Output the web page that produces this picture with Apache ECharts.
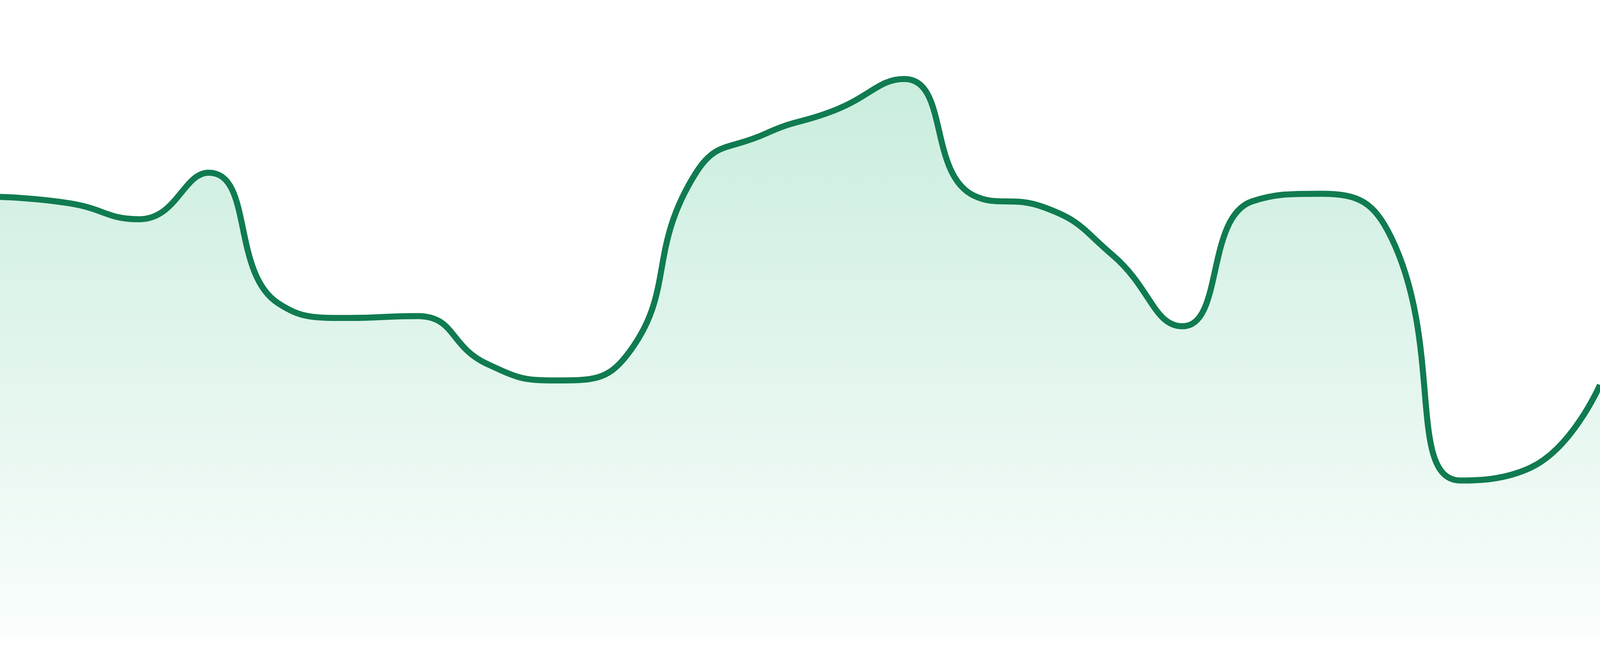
<!DOCTYPE html>
<html>
<head>
<meta charset="utf-8">
<style>
html,body{margin:0;padding:0;background:#ffffff;width:100%;height:100%;overflow:hidden;}
#chart{width:100%;height:100%;}
</style>
<script src="https://cdn.jsdelivr.net/npm/echarts@6/dist/echarts.min.js"></script>
</head>
<body>
<div id="chart"></div>
<script>
var categories = ['1','2','3','4','5','6','7','8','9','10','11','12','13','14','15','16','17','18','19','20','21','22','23','24'];
var values = [69.1, 68.1, 65.6, 72.9, 52.4, 50.1, 50.4, 42.9, 40.3, 44.1, 72.8, 79.0, 82.7, 87.6, 69.3, 67.5, 59.9, 48.8, 68.4, 69.6, 62.7, 24.6, 26.6, 39.6];

var el = document.getElementById('chart');
var chart = echarts.init(el);
var h = el.clientHeight;
chart.setOption({
  animation: false,
  backgroundColor: '#ffffff',
  grid: {left: 0, right: 0, top: 0, bottom: Math.round(h * 48 / 1680)},
  xAxis: {type: 'category', data: categories, boundaryGap: false, show: false},
  yAxis: {type: 'value', min: 0, max: 100, show: false},
  series: [{
    type: 'line',
    data: values,
    smooth: true,
    symbol: 'none',
    lineStyle: {color: '#107b50', width: 15.5 * h / 1680},
    areaStyle: {
      color: new echarts.graphic.LinearGradient(0, 0, 0, 1, [
        {offset: 0, color: 'rgba(16,175,105,0.32)'},
        {offset: 1, color: 'rgba(16,175,105,0.03)'}
      ])
    }
  }]
});
</script>
</body>
</html>
